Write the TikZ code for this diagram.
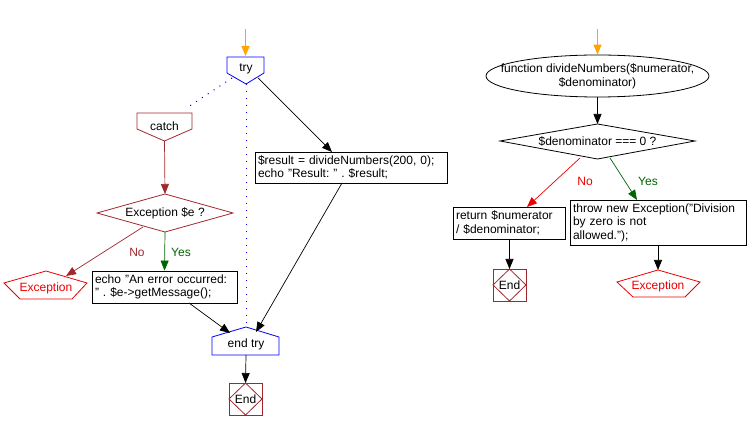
\documentclass[tikz,border=0pt]{standalone}
\usepackage{fontspec}
\setmainfont{Liberation Sans}
\usetikzlibrary{arrows.meta,shapes.geometric}
\frenchspacing
\definecolor{cbrown}{RGB}{160,40,45}
\definecolor{cgreen}{RGB}{0,100,0}
\definecolor{cred}{RGB}{235,0,0}
\definecolor{cblue}{RGB}{0,0,255}
\definecolor{corange}{RGB}{255,165,0}
\tikzset{
  every node/.style={font=\fontsize{12}{13.5}\selectfont, inner sep=0pt},
  arr/.style={line width=0.7pt, -{Triangle[length=10pt,width=8pt]}},
  startarr/.style={arr, draw=corange, line width=1.2pt},
  shp/.style={line width=0.8pt},
  box/.style={draw, line width=0.8pt, inner sep=3pt, align=left, anchor=center},
  dots/.style={draw=cblue, line width=1pt, dash pattern=on 1pt off 6pt},
}
\begin{document}
\begin{tikzpicture}[x=1pt,y=-1pt]
\useasboundingbox (0,0) rectangle (749,430);
% ---------- left flow ----------
\coordinate (s1) at (245.5,29);
\draw[shp,cblue] (227,57) -- (264,57) -- (264,73) -- (246,84) -- (227,73) -- cycle;
\node (try) at (246,69) {try};
\coordinate (tryT) at (245.5,56);
\coordinate (tryB) at (246,84);
\coordinate (tryL) at (232,78);
\coordinate (tryR) at (258,78);
\draw[startarr] (s1) -- (tryT);

\draw[shp,cbrown] (137,113) -- (192,113) -- (192,129) -- (164.5,141) -- (137,129) -- cycle;
\node (catch) at (164.5,126) {catch};
\coordinate (catchTR) at (188,107);
\coordinate (catchB) at (164.5,141);
\draw[dots] (tryL) -- (catchTR);

\draw[shp,cbrown] (97,213) -- (165,194) -- (233,213) -- (165,232) -- cycle;
\node (dec1) at (165,213) {Exception \$e ?};
\coordinate (dec1T) at (165,194);
\coordinate (dec1B) at (165,232);
\coordinate (dec1L) at (143,227);
\draw[arr,cbrown] (catchB) -- (dec1T);

\draw[shp,cred] (46,271) -- (87,283) -- (72,299) -- (20,299) -- (4,283) -- cycle;
\node[text=cred] (exc1) at (46,288) {Exception};
\coordinate (exc1T) at (66,276);
\draw[arr,cbrown] (dec1L) -- (exc1T);
\node[text=cbrown] (no1) at (137,252) {No};

\node[box, minimum width=145pt, minimum height=32pt, text width=139pt] (echo) at (164.5,287) {echo "An error occurred:\\" . \$e-\textgreater getMessage();};
\draw[arr,cgreen] (dec1B) -- (echo.north);
\node[text=cgreen] (yes1) at (181,252) {Yes};

\node[box, minimum width=192pt, minimum height=31pt, text width=186pt] (res) at (351,167.5) {\$result = divideNumbers(200, 0);\\echo "Result: " . \$result;};
\coordinate (resT) at (332,152);
\coordinate (resB) at (342,183);
\draw[arr] (tryR) -- (resT);

\draw[shp,cblue] (212,355) -- (212,337) -- (246,327) -- (279,337) -- (279,355) -- cycle;
\node (endtry) at (246,344) {end try};
\coordinate (etT) at (246,327);
\coordinate (etL) at (230,333);
\coordinate (etR) at (256,332);
\coordinate (etB) at (246,355);
\coordinate (echoB) at (189,303);
\draw[dots] (tryB) -- (etT);
\draw[arr] (echoB) -- (etL);
\draw[arr] (resB) -- (etR);

\draw[shp,cbrown] (229,383) rectangle (262,415);
\draw[shp,cbrown] (245.5,383) -- (262,399) -- (245.5,415) -- (229,399) -- cycle;
\node (end1) at (245.5,399) {End};
\coordinate (end1T) at (245.5,383);
\draw[arr] (etB) -- (end1T);

% ---------- right flow ----------
\coordinate (s2) at (597.5,29);
\node[draw, shp, ellipse, minimum width=223pt, minimum height=42pt] (fn) at (597.5,76) {};
\node[align=center] (fntext) at (597.5,76.5) {function divideNumbers(\$numerator,\\\$denominator)};
\draw[startarr] (s2) -- (fn.north);

\draw[shp] (500,141) -- (597.5,124) -- (695,141) -- (597.5,159) -- cycle;
\node (dec2) at (597.5,141) {\$denominator === 0 ?};
\coordinate (dec2T) at (597.5,124);
\coordinate (dec2L) at (580,158);
\coordinate (dec2R) at (610,158);
\draw[arr] (fn.south) -- (dec2T);

\node[box, minimum width=112pt, minimum height=32pt, text width=106pt] (ret) at (509,223) {return \$numerator\\/ \$denominator;};
\coordinate (retT) at (527,207);
\draw[arr,cred] (dec2L) -- (retT);
\node[text=cred] (no2) at (585,181) {No};

\node[box, minimum width=176pt, minimum height=45pt, text width=170pt] (thr) at (658,222.5) {throw new Exception("Division\\by zero is not\\allowed.");};
\coordinate (thrT) at (637,200);
\draw[arr,cgreen] (dec2R) -- (thrT);
\node[text=cgreen] (yes2) at (648,181) {Yes};

\draw[shp,cbrown] (493,269) rectangle (526,301);
\draw[shp,cbrown] (509.5,269) -- (526,285) -- (509.5,301) -- (493,285) -- cycle;
\node (end2) at (509.5,285.5) {End};
\coordinate (end2T) at (509.5,269);
\coordinate (retB) at (509.5,239);
\draw[arr] (retB) -- (end2T);

\draw[shp,cred] (658,270) -- (700,282) -- (685,297) -- (633,297) -- (617,282) -- cycle;
\node[text=cred] (exc2) at (658,286) {Exception};
\coordinate (exc2T) at (658,270);
\draw[arr] (thr.south) -- (exc2T);
\end{tikzpicture}
\end{document}
